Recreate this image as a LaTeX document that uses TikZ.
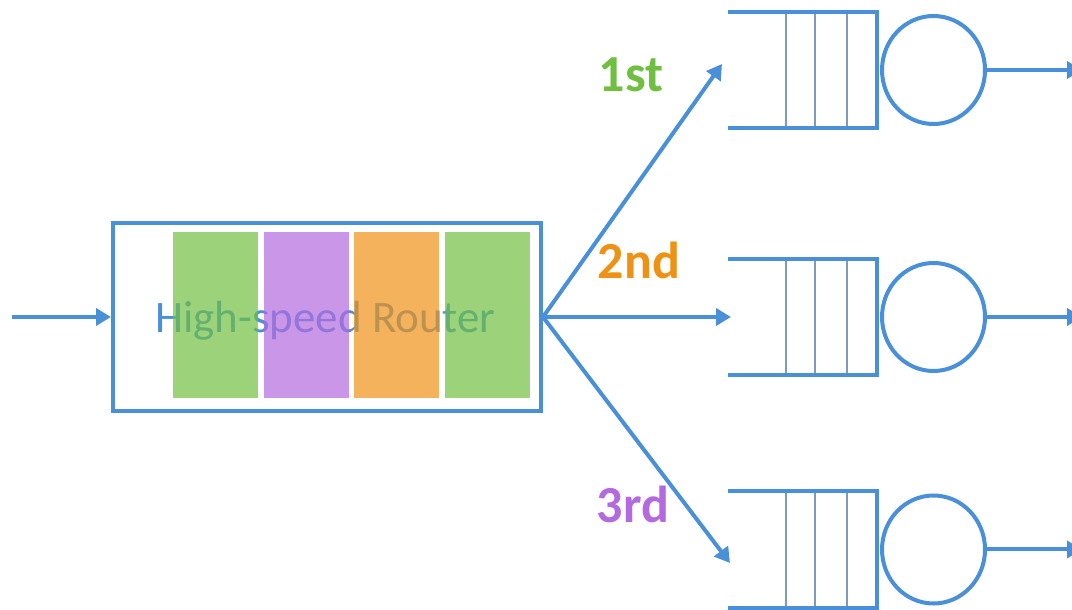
\documentclass[tikz,border=0pt]{standalone}
\usepackage{fontspec}
\setmainfont{Carlito}
\usetikzlibrary{arrows.meta,shapes.geometric}
\definecolor{qblue}{RGB}{74,144,217}
\definecolor{qline}{RGB}{125,155,190}
\definecolor{cgreen}{RGB}{112,191,65}
\definecolor{cpurple}{RGB}{179,106,222}
\definecolor{corange}{RGB}{238,146,21}
\begin{document}
\begin{tikzpicture}[x=100bp, y=100bp, line join=miter, >={Triangle[length=15bp,width=17bp]},
		wire/.style={draw=qblue, line width=4bp},
		server/.style={ellipse, draw=qblue, line width=4bp, minimum width=103bp, minimum height=108bp, inner sep=0pt},
		rank/.style={font=\fontsize{52bp}{60bp}\selectfont\bfseries}]
			\useasboundingbox (0,0) rectangle (10.72,6.10);
				\coordinate (in) at (0.12,2.93);
				\coordinate (a1) at (7.22,5.46);
				\coordinate (a2) at (7.31,2.93);
				\coordinate (a3) at (7.30,0.47);
			\node[wire, rectangle, minimum width=428bp, minimum height=188bp] (router) at (3.27,2.93) {};
			\node[qblue, anchor=base, font=\fontsize{45bp}{54bp}\selectfont] (title) at (3.255,2.77) {High-speed Router};
				\foreach \i/\c in {0/cgreen,1/cpurple,2/corange,3/cgreen} \fill[\c, fill opacity=.7] (1.73+.905*\i,2.12) rectangle ++(.85,1.66);
			\draw[wire,->] (in)--(router.west);
			\foreach \p in {a1,a2,a3} \draw[wire,->] (router.east)--(\p);
				\foreach \n/\y in {1/5.40,2/2.93,3/0.605} {
					\foreach \d in {7.86,8.15,8.47} \draw[qline, line width=1.3bp] (\d,\y+.57)--(\d,\y-.57);
					\draw[wire] (7.28,\y+.58)--(8.77,\y+.58)--(8.77,\y-.58)--(7.28,\y-.58);
					\node[server] (s\n) at (9.335,\y) {};
					\coordinate (o\n) at (10.82,\y);
					\draw[wire,->] (s\n)--(o\n);
				}
				\foreach \p/\t/\c/\x/\y in {l1/1st/cgreen/6.31/5.355, l2/2nd/corange/6.39/3.50, l3/3rd/cpurple/6.33/1.055} \node[rank, text=\c] (\p) at (\x,\y) {\t};
			\end{tikzpicture}
\end{document}
